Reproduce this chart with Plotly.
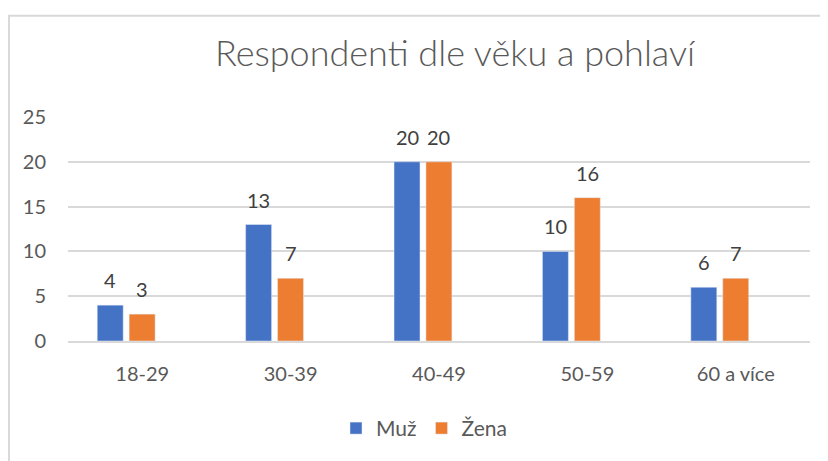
import plotly.graph_objects as go

# data
age_groups = ["18-29", "30-39", "40-49", "50-59", "60 a více"]
men = [4, 13, 20, 10, 6]
women = [3, 7, 20, 16, 7]

BLUE = "#4472C4"
ORANGE = "#ED7D31"
GREY_TEXT = "#595959"
LABEL_TEXT = "#404040"
GRID = "#D9D9D9"
FONT = "Lato, 'Open Sans', sans-serif"

# page body adds an 8px margin, so the figure is sized to fit the window
W, H = 820, 453
L, R, T, B = 60, 18, 109, 116
plot_w = W - L - R
plot_h = H - T - B

BAR_W = 0.175
OFFSETS = {"Muž": -0.303, "Žena": -0.088}

fig = go.Figure()

for name, vals, color in [("Muž", men, BLUE), ("Žena", women, ORANGE)]:
    fig.add_trace(go.Bar(
        x=age_groups, y=vals, name=name,
        marker_color=color, width=BAR_W, offset=OFFSETS[name],
    ))
    # data labels, Excel style a bit above the bar
    shift = (OFFSETS[name] + BAR_W / 2) * plot_w / len(age_groups)
    for cat, v in zip(age_groups, vals):
        fig.add_annotation(
            x=cat, y=v, text=str(v), showarrow=False,
            xshift=shift, yshift=11, yanchor="bottom",
            font=dict(size=20, color=LABEL_TEXT, family=FONT),
        )

fig.update_layout(
    width=W, height=H,
    margin=dict(l=L, r=R, t=T, b=B),
    paper_bgcolor="white", plot_bgcolor="white",
    barmode="overlay",
    font=dict(family=FONT, color=GREY_TEXT, size=20),
    title=dict(
        text="Respondenti dle věku a pohlaví",
        x=447 / W, xanchor="center",
        y=1 - 45 / H, yanchor="middle",
        font=dict(size=36, color=GREY_TEXT, family=FONT, weight=300),
    ),
    legend=dict(
        orientation="h", x=(416 - L) / plot_w, xanchor="center",
        y=-(426 - (H - B)) / plot_h, yanchor="middle",
        font=dict(size=21, color=GREY_TEXT),
        traceorder="normal",
    ),
    showlegend=True,
)

fig.update_yaxes(
    range=[0, 25], dtick=5, automargin=False,
    showgrid=True, gridcolor=GRID, gridwidth=1.5,
    zeroline=False, showline=False,
    tickfont=dict(size=20, color=GREY_TEXT),
    ticklabelstandoff=21,
)
fig.update_xaxes(
    automargin=False,
    showline=True, linecolor=GRID, linewidth=1.5,
    tickfont=dict(size=20, color=GREY_TEXT),
    ticklabelstandoff=14,
)

# chart area border (cropped on the right and bottom in the reference)
fig.add_shape(
    type="rect", xref="paper", yref="paper",
    x0=-(L - 1) / plot_w, x1=1.2,
    y0=-1, y1=1 + (T - 6) / plot_h,
    line=dict(color=GRID, width=2), fillcolor="rgba(0,0,0,0)",
    layer="below",
)

fig.write_html("out.html")
